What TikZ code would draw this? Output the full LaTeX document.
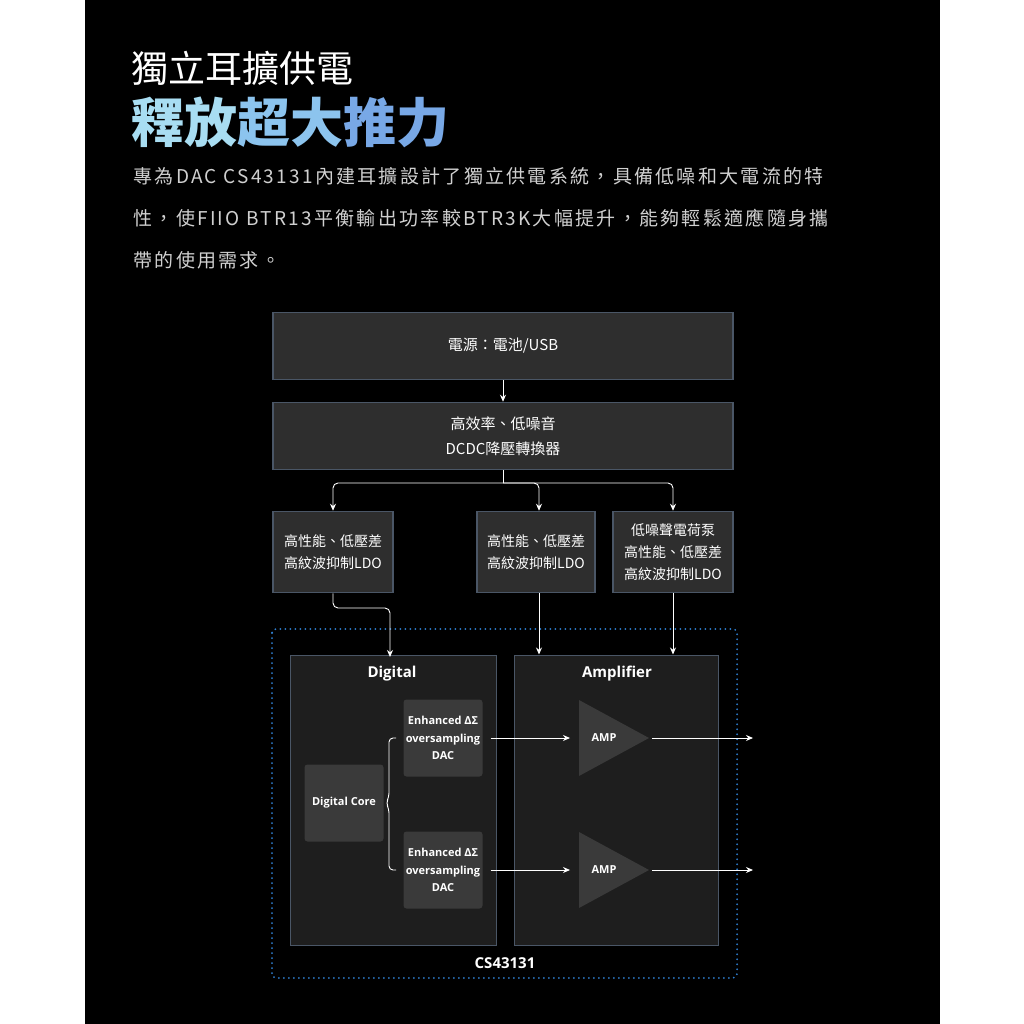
\documentclass[tikz,border=0pt]{standalone}
\usepackage{fontspec}
\setmainfont{Noto Sans CJK TC}
\newfontfamily\latin{Open Sans}
\usetikzlibrary{arrows.meta}
\definecolor{boxfill}{HTML}{2E2E2E}
\definecolor{boxline}{HTML}{4A5666}
\definecolor{panel}{HTML}{1E1E1E}
\definecolor{inner}{HTML}{3A3A3A}
\definecolor{dots}{HTML}{2F7FD0}
\definecolor{bodytext}{HTML}{D0D0D0}
\definecolor{titlea}{HTML}{A8DDF2}
\definecolor{titleb}{HTML}{8CC4EE}
\definecolor{titlec}{HTML}{78A8E6}
\begin{document}
\begin{tikzpicture}[x=1pt,y=-1pt,
    box/.style={draw=boxline,line width=1.5pt,fill=boxfill,text=white,align=center,font=\fontsize{15}{25}\selectfont,inner sep=0pt},
    panelbox/.style={draw=boxline,line width=1pt,fill=panel,inner sep=0pt},
    blk/.style={fill=inner,rounded corners=3pt,text=white,align=center,inner sep=0pt,font=\latin\bfseries\fontsize{11}{17.5}\selectfont},
    wire/.style={white,line width=0.9pt},
    arr/.style={wire,-{Stealth[length=7pt,width=6pt]}}]
    \useasboundingbox (0,0) rectangle (1024,1024);
    \fill[white] (0,0) rectangle (1024,1024);
    \fill[black] (85,0) rectangle (940,1024);
    % heading
    \node[anchor=west,text=white,font=\fontsize{37}{37}\selectfont] (t1) at (128,68) {獨立耳擴供電};
    \node[anchor=west,font=\bfseries\fontsize{53}{53}\selectfont] (t2) at (128,122) {\textcolor{titlea}{釋放}\textcolor{titleb}{超大}\textcolor{titlec}{推力}};
    \node[anchor=north west,text=bodytext,align=left,font=\addfontfeatures{LetterSpace=12}\fontsize{19}{42}\selectfont] (intro) at (130,164)
      {專為DAC CS43131內建耳擴設計了獨立供電系統，具備低噪和大電流的特\\性，使FIIO BTR13平衡輸出功率較BTR3K大幅提升，能夠輕鬆適應隨身攜\\帶的使用需求。};
    % supply chain
    \node[box,minimum width=460pt,minimum height=67pt] (pwr) at (503,346) {電源：電池/USB};
    \node[box,minimum width=460pt,minimum height=67pt] (dcdc) at (503,436) {高效率、低噪音\\DCDC降壓轉換器};
    \node[box,minimum width=120pt,minimum height=81pt,font=\fontsize{14}{22}\selectfont] (ldoa) at (333,552) {高性能、低壓差\\高紋波抑制LDO};
    \node[box,minimum width=118pt,minimum height=81pt,font=\fontsize{14}{22}\selectfont] (ldob) at (536,552) {高性能、低壓差\\高紋波抑制LDO};
    \node[box,minimum width=120pt,minimum height=81pt,font=\fontsize{14}{22}\selectfont] (ldoc) at (673,552) {低噪聲電荷泵\\高性能、低壓差\\高紋波抑制LDO};
    \draw[arr] (pwr) -- (dcdc);
    \coordinate (split) at (503,483);
    \draw[wire] (dcdc.south) -- (split);
    \draw[arr,rounded corners=5pt] (split) -| (ldoa.north);
    \draw[arr,rounded corners=5pt] (split) -| ([xshift=3pt]ldob.north);
    \draw[arr,rounded corners=5pt] (split) -| (ldoc.north);
    % chip
    \draw[dots,line width=2pt,dash pattern=on 0pt off 5pt,line cap=round,rounded corners=4pt] (272,629) rectangle (737,978);
    \node[panelbox,minimum width=206pt,minimum height=290pt] (dig) at (393,800) {};
    \node[panelbox,minimum width=204pt,minimum height=290pt] (amp) at (616,800) {};
    \node[text=white,font=\latin\bfseries\fontsize{15}{15}\selectfont] (digt) at (392,674) {Digital};
    \node[text=white,font=\latin\bfseries\fontsize{15}{15}\selectfont] (ampt) at (617,674) {Amplifier};
    \node[text=white,font=\latin\bfseries\fontsize{15}{15}\selectfont] (chip) at (505,963) {CS43131};
    \coordinate (ina) at (390,657);
    \draw[arr,rounded corners=5pt] (ldoa.south) |- (357,608) -| (ina);
    \draw[arr] ([xshift=3pt]ldob.south) -- ([xshift=3pt]ldob.south |- amp.north);
    \draw[arr] (ldoc.south) -- (ldoc.south |- amp.north);
    % digital blocks
    \node[blk,minimum width=79pt,minimum height=77pt] (core) at (344,803) {Digital Core};
    \node[blk,minimum width=79pt,minimum height=77pt] (daca) at (443,738) {Enhanced ΔΣ\\oversampling\\DAC};
    \node[blk,minimum width=79pt,minimum height=77pt] (dacb) at (443,870) {Enhanced ΔΣ\\oversampling\\DAC};
    \draw[wire,rounded corners=4pt] (396,738) -- (389,738) -- (389,797) -- (386,803) -- (389,809) -- (389,870) -- (396,870);
    % amplifiers
    \foreach \n/\y in {ampa/738,ampb/870}{
      \fill[inner] (579,\y-38) -- (649,\y) -- (579,\y+38) -- cycle;
      \node[text=white,font=\latin\bfseries\fontsize{11}{11}\selectfont] (\n) at (604,\y) {AMP};
      \coordinate (\n in) at (570,\y);
      \coordinate (\n out) at (753,\y);
      \draw[arr] (652,\y) -- (\n out);
    }
    \draw[arr] (daca.east) ++(8,0) -- (ampain);
    \draw[arr] (dacb.east) ++(8,0) -- (ampbin);
\end{tikzpicture}
\end{document}
